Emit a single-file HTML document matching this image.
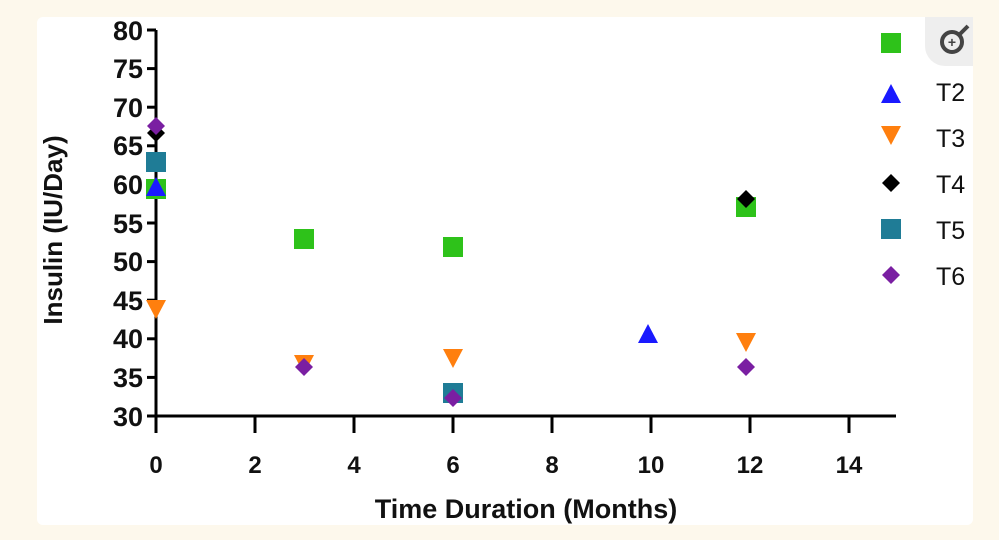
<!DOCTYPE html>
<html><head><style>
html,body{margin:0;padding:0;background:#fdf8ec;}
body{width:999px;height:540px;position:relative;overflow:hidden;font-family:"Liberation Sans",sans-serif;}
.card{position:absolute;left:37px;top:17px;width:936px;height:508px;background:#fff;border-radius:6px;}
</style></head><body>
<div class="card"></div>
<svg width="999" height="540" style="position:absolute;left:0;top:0" font-family="Liberation Sans, sans-serif">
<defs>
<g id="sq"><rect x="-10" y="-10" width="20" height="20"/></g>
<g id="up"><polygon points="0,-11 10,8 -10,8"/></g>
<g id="dn"><polygon points="-10,-8 10,-8 0,11"/></g>
<g id="dm"><polygon points="0,-9 9,0 0,9 -9,0"/></g>
</defs>
<path d="M925,17 h48 v49 h-28 a20,20 0 0 1 -20,-20 z" fill="#eee"/>
<circle cx="952" cy="42" r="10" fill="none" stroke="#444" stroke-width="4"/>
<line x1="959" y1="35" x2="968" y2="26" stroke="#444" stroke-width="4"/>
<text x="952" y="47" font-size="14" text-anchor="middle" fill="#444" font-weight="bold">+</text>
<g stroke="#000" stroke-width="3" fill="none">
<line x1="156" y1="30" x2="156" y2="433"/>
<line x1="148" y1="416" x2="896" y2="416"/>
</g>
<g stroke="#000" stroke-width="3">
<line x1="147" y1="30" x2="156" y2="30"/><line x1="147" y1="68.6" x2="156" y2="68.6"/>
<line x1="147" y1="107.2" x2="156" y2="107.2"/><line x1="147" y1="145.8" x2="156" y2="145.8"/>
<line x1="147" y1="184.4" x2="156" y2="184.4"/><line x1="147" y1="223" x2="156" y2="223"/>
<line x1="147" y1="261.6" x2="156" y2="261.6"/><line x1="147" y1="300.2" x2="156" y2="300.2"/>
<line x1="147" y1="338.8" x2="156" y2="338.8"/><line x1="147" y1="377.4" x2="156" y2="377.4"/>
<line x1="147" y1="416" x2="156" y2="416"/>
<line x1="255" y1="416" x2="255" y2="433"/><line x1="354" y1="416" x2="354" y2="433"/>
<line x1="453" y1="416" x2="453" y2="433"/><line x1="552" y1="416" x2="552" y2="433"/>
<line x1="651" y1="416" x2="651" y2="433"/><line x1="750" y1="416" x2="750" y2="433"/>
<line x1="849" y1="416" x2="849" y2="433"/>
</g>
<g font-size="27" font-weight="bold" text-anchor="end" fill="#111">
<text x="143" y="40">80</text><text x="143" y="78">75</text><text x="143" y="117">70</text>
<text x="143" y="155">65</text><text x="143" y="194">60</text><text x="143" y="233">55</text>
<text x="143" y="271">50</text><text x="143" y="310">45</text><text x="143" y="348">40</text>
<text x="143" y="387">35</text><text x="143" y="426">30</text>
</g>
<g font-size="24" font-weight="bold" text-anchor="middle" fill="#111">
<text x="156" y="473">0</text><text x="255" y="473">2</text><text x="354" y="473">4</text>
<text x="453" y="473">6</text><text x="552" y="473">8</text><text x="651" y="473">10</text>
<text x="750" y="473">12</text><text x="849" y="473">14</text>
</g>
<text x="526" y="518" font-size="27" font-weight="bold" text-anchor="middle" fill="#111">Time Duration (Months)</text>
<text transform="translate(62,230) rotate(-90)" font-size="26" font-weight="bold" text-anchor="middle" fill="#111">Insulin (IU/Day)</text>
<g fill="#2ec21a">
<use href="#sq" x="156" y="189"/><use href="#sq" x="304" y="239"/><use href="#sq" x="453" y="247"/><use href="#sq" x="746" y="207"/>
</g>
<g fill="#1f7c96"><use href="#sq" x="156" y="162"/><use href="#sq" x="453" y="393"/></g>
<g fill="#1a1aff"><use href="#up" x="156" y="188"/><use href="#up" x="648" y="335"/></g>
<g fill="#ff7f0e"><use href="#dn" x="156" y="308"/><use href="#dn" x="304" y="363"/><use href="#dn" x="453" y="357"/><use href="#dn" x="746" y="341"/></g>
<g fill="#000"><use href="#dm" x="156" y="133"/><use href="#dm" x="746" y="199"/></g>
<g fill="#7a1fa2"><use href="#dm" x="156" y="126"/><use href="#dm" x="304" y="367"/><use href="#dm" x="453" y="398"/><use href="#dm" x="746" y="367"/></g>
<rect x="881" y="33" width="20" height="20" fill="#2ec21a"/>
<use href="#up" x="891" y="95" fill="#1a1aff"/>
<use href="#dn" x="891" y="134" fill="#ff7f0e"/>
<use href="#dm" x="891" y="183" fill="#000"/>
<rect x="881" y="219" width="20" height="20" fill="#1f7c96"/>
<use href="#dm" x="891" y="275" fill="#7a1fa2"/>
<g font-size="25" fill="#111">
<text x="936" y="101">T2</text><text x="936" y="147">T3</text><text x="936" y="193">T4</text>
<text x="936" y="239">T5</text><text x="936" y="285">T6</text>
</g>
</svg>
</body></html>
